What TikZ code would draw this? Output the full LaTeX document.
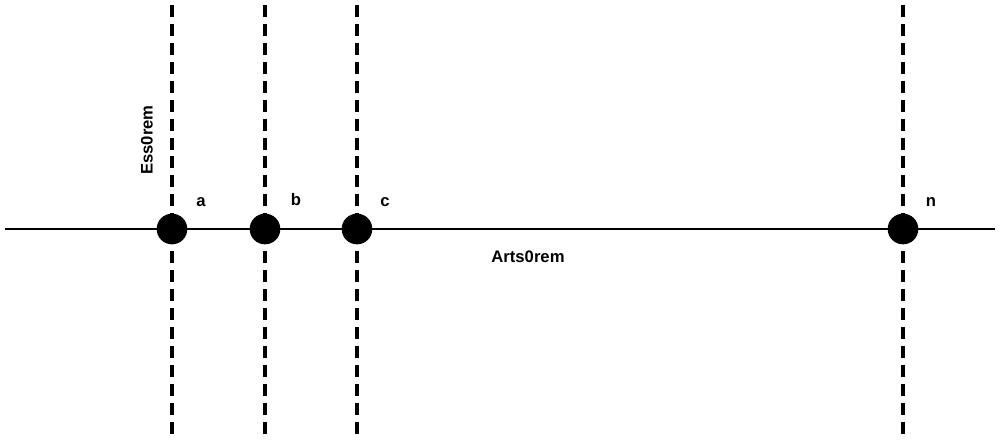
\documentclass[tikz,border=0pt]{standalone}
\usepackage{fontspec}
\setmainfont{Liberation Sans}
\begin{document}
\begin{tikzpicture}[x=0.75pt,y=-0.75pt,
  dot/.style={circle,fill=black,inner sep=0pt,minimum size=23pt},
  guide/.style={line width=2.6pt,dash pattern=on 9pt off 5.2pt},
  axis/.style={line width=2pt},
  lbl/.style={font=\fontsize{12.5}{15}\selectfont\bfseries,inner sep=0pt}]
\useasboundingbox[fill=white] (0,0) rectangle (1000,442);
% guide ends
\foreach \n/\x in {a/172,b/265,c/357,n/903}{
  \coordinate (t\n) at (\x,5);
  \coordinate (u\n) at (\x,438);
}
\coordinate (L) at (5,229);
\coordinate (R) at (995,229);
\draw[axis] (L) -- (R);
\foreach \n in {a,b,c,n}{
  \draw[guide] (t\n) -- (u\n);
}
\node[dot] (da) at (172,229) {};
\node[dot] (db) at (265,229) {};
\node[dot] (dc) at (357,229) {};
\node[dot] (dn) at (903,229) {};
\node[lbl] (la) at (201,202) {a};
\node[lbl] (lb) at (296,200) {b};
\node[lbl] (lc) at (385,202) {c};
\node[lbl] (ln) at (931,202) {n};
\node[lbl,rotate=90] (ess) at (147,140) {Ess0rem};
\node[lbl] (arts) at (528,257) {Arts0rem};
\end{tikzpicture}
\end{document}
